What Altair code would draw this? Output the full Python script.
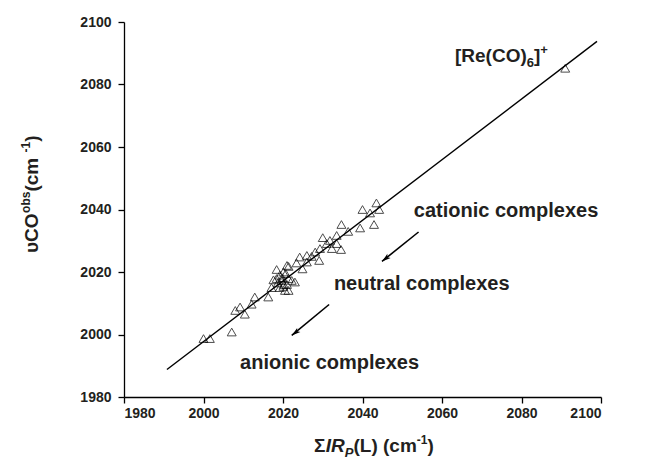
import altair as alt
import pandas as pd

# ---- data ----
sum_ir = [2043.5, 2040.0, 2041.9, 2044.2, 2042.9, 2039.4, 2034.7, 2036.4, 2033.5, 2031.8,
          2031.0, 2033.5, 2034.6, 2032.3, 2029.3, 2028.1, 2026.0, 2024.2, 2026.0, 2029.1,
          2023.4, 2027.2, 2021.4, 2020.1, 2018.4, 2021.4, 2019.7, 2022.2, 2020.1, 2021.4,
          2023.0, 2017.1, 2016.3, 2012.9, 2012.1, 2009.2, 2008.0, 2010.4, 2007.1, 2000.0,
          2001.6, 2020.5, 2021.0, 2018.7, 2020.2, 2019.2, 2020.7, 2019.2, 2017.6, 2024.9,
          2030.0, 2019.8, 2021.0, 2018.4, 2091.0]
nu_obs = [2042.1, 2040.0, 2038.9, 2040.0, 2035.2, 2034.1, 2035.2, 2033.0, 2031.7, 2030.1,
          2029.1, 2029.1, 2027.2, 2027.5, 2027.5, 2026.4, 2025.3, 2024.8, 2023.2, 2023.7,
          2022.9, 2025.0, 2021.8, 2020.0, 2017.9, 2017.9, 2017.3, 2017.3, 2015.4, 2014.1,
          2016.8, 2015.0, 2012.0, 2012.0, 2009.7, 2008.8, 2007.7, 2006.5, 2000.8, 1998.7,
          1998.7, 2014.1, 2022.1, 2016.5, 2016.0, 2019.0, 2019.5, 2015.0, 2017.5, 2021.0,
          2031.0, 2018.2, 2016.0, 2020.8, 2085.2]

fit_x = [1990.8, 2099.0]
fit_y = [1988.8, 2093.8]

arrow_x1 = [2054.1, 2031.6]
arrow_y1 = [2032.8, 2009.6]
arrow_x2 = [2044.9, 2022.2]
arrow_y2 = [2023.4, 1999.7]

note_text = ["cationic complexes", "neutral complexes", "anionic complexes"]
note_x = [2052.9, 2032.8, 2009.2]
note_y = [2037.6, 2014.1, 1989.1]

tick_values = list(range(1980, 2101, 10))

# ---- layout ----
W, H = 477, 375
FONT = "Liberation Sans"
INK = "#231f20"

CW = {' ': .278, '(': .333, ')': .333, '[': .333, ']': .333, '+': .584, '-': .333,
      'C': .722, 'O': .778, 'R': .722, 'e': .556, 'L': .611, 'I': .278, 'P': .667,
      'c': .556, 'm': .889, 'o': .611, 'b': .611, 's': .556, 'Σ': .62, 'υ': .61}


def tw(t, size):
    return sum(CW.get(ch, .556) for ch in t) * size


def rich(pieces, x0, y0, angle):
    rows = []
    pos = 0.0
    for text, size, italic, shift in pieces:
        if angle == 0:
            px, py = x0 + pos, y0 + shift
        else:
            px, py = x0 + shift, y0 - pos
        rows.append({"t": text, "px": px, "py": py, "fs": size, "ang": angle, "it": italic})
        pos += tw(text, size)
    return rows


rows = []
rows += rich([("υCO", 19, False, 0), ("obs", 12, False, -8), (" (cm", 19, False, 0),
              ("-1", 12, False, -8), (")", 19, False, 0)], -86, 231, 270)
rows += rich([("Σ", 19, False, 0), ("IR", 19, True, 0), ("P", 13, True, 5),
              ("(L) (cm", 19, False, 0), ("-1", 12, False, -8), (")", 19, False, 0)],
             190, 430, 0)
rows += rich([("[Re(CO)", 19, False, 0), ("6", 13, False, 5), ("]", 19, False, 0),
              ("+", 13, False, -8)], 331, 40, 0)
rich_df = pd.DataFrame(rows)

pts = pd.DataFrame({"x": sum_ir, "y": nu_obs})
fit = pd.DataFrame({"x": fit_x, "y": fit_y})
arr = pd.DataFrame({"x1": arrow_x1, "y1": arrow_y1, "x2": arrow_x2, "y2": arrow_y2})
notes = pd.DataFrame({"t": note_text, "x": note_x, "y": note_y})

xscale = alt.Scale(domain=[1980, 2100], nice=False, zero=False)
yscale = alt.Scale(domain=[1980, 2100], nice=False, zero=False)

tick_size = {"condition": {"test": "datum.value % 20 === 0", "value": 6}, "value": 4}
lab_expr = "datum.value % 20 === 0 ? datum.label : ''"

xaxis = alt.Axis(values=tick_values, labelExpr=lab_expr, format="d", title=None,
                 tickSize=tick_size, labelPadding=3, grid=False)
yaxis = alt.Axis(values=tick_values, labelExpr=lab_expr, format="d", title=None,
                 tickSize=tick_size, labelPadding=7, grid=False)

points = alt.Chart(pts).mark_point(shape="triangle-up", filled=False, color="black",
                                    strokeWidth=1, size=80).encode(
    x=alt.X("x:Q", scale=xscale, axis=xaxis),
    y=alt.Y("y:Q", scale=yscale, axis=yaxis),
)

line = alt.Chart(fit).mark_line(color="black", strokeWidth=1.4).encode(
    x=alt.X("x:Q", scale=xscale), y=alt.Y("y:Q", scale=yscale))

shafts = alt.Chart(arr).mark_rule(color="black", strokeWidth=1.6).encode(
    x=alt.X("x1:Q", scale=xscale), y=alt.Y("y1:Q", scale=yscale),
    x2="x2:Q", y2="y2:Q")

heads = alt.Chart(arr).mark_point(shape="M0,0L0.5,1.7L0,1.3L-0.5,1.7Z", filled=True,
                                   color="black", opacity=1, size=110, angle=232,
                                   strokeWidth=0).encode(
    x=alt.X("x2:Q", scale=xscale), y=alt.Y("y2:Q", scale=yscale))

note_marks = alt.Chart(notes).mark_text(font=FONT, fontWeight="bold", fontSize=20,
                                         align="left", baseline="alphabetic",
                                         color=INK).encode(
    x=alt.X("x:Q", scale=xscale), y=alt.Y("y:Q", scale=yscale), text="t:N")


def rich_layer(italic):
    d = rich_df[rich_df["it"] == italic]
    return alt.Chart(d).mark_text(font=FONT, fontWeight="bold",
                                  fontStyle="italic" if italic else "normal",
                                  align="left", baseline="alphabetic", color=INK).encode(
        x=alt.X("px:Q", scale=None, axis=None),
        y=alt.Y("py:Q", scale=None, axis=None),
        text="t:N",
        size=alt.Size("fs:Q", scale=None, legend=None),
        angle=alt.Angle("ang:Q", scale=None),
    )


chart = alt.layer(points, line, shafts, heads, note_marks,
                  rich_layer(False), rich_layer(True)).properties(
    width=W, height=H,
    autosize=alt.AutoSizeParams(type="none"),
    padding={"left": 116, "top": 14, "right": 40, "bottom": 62},
).configure_view(stroke=None).configure_axis(
    domainColor="black", domainWidth=1.3, tickColor="black", tickWidth=1.3,
    labelFont=FONT, labelFontWeight="bold", labelFontSize=14, labelColor=INK,
)

chart.save("out.html", embed_options={"renderer": "svg", "actions": False})
